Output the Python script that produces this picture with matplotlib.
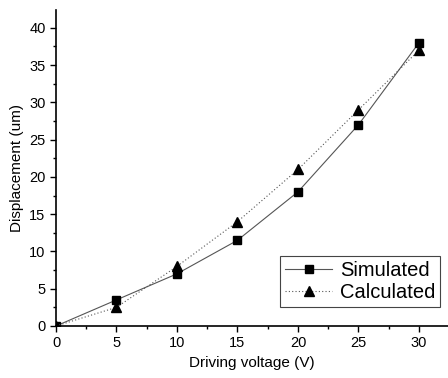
import matplotlib
matplotlib.use('Agg')
import matplotlib.pyplot as plt
from matplotlib.ticker import MultipleLocator

plt.rcParams['font.family'] = ['Liberation Sans', 'DejaVu Sans']

# dados
voltage = [0, 5, 10, 15, 20, 25, 30]
simulated = [0, 3.5, 7, 11.5, 18, 27, 38]
calculated = [0, 2.5, 8, 14, 21, 29, 37]

fig = plt.figure(figsize=(4.48, 3.78), dpi=100)
ax = fig.add_axes([0.125, 0.1376, 0.875, 0.836])

ax.plot(voltage, simulated, color='#555555', linewidth=0.8, linestyle='-',
        marker='s', markersize=6, markerfacecolor='black', markeredgecolor='black',
        label='Simulated')
ax.plot(voltage, calculated, color='#555555', linewidth=0.8, linestyle=(0, (1, 2)),
        marker='^', markersize=7, markerfacecolor='black', markeredgecolor='black',
        label='Calculated')

ax.set_xlim(0, 32.4)
ax.set_ylim(0, 42.4)
ax.xaxis.set_major_locator(MultipleLocator(5))
ax.xaxis.set_minor_locator(MultipleLocator(2.5))
ax.yaxis.set_major_locator(MultipleLocator(5))
ax.yaxis.set_minor_locator(MultipleLocator(2.5))

ax.spines['top'].set_visible(False)
ax.spines['right'].set_visible(False)
ax.spines['left'].set_linewidth(1.2)
ax.spines['bottom'].set_linewidth(1.2)
ax.tick_params(which='major', direction='out', length=4, width=1, labelsize=10.5)
ax.tick_params(which='minor', direction='out', length=2.5, width=1)

ax.set_xlabel('Driving voltage (V)', fontsize=11)
ax.set_ylabel('Displacement (um)', fontsize=11)

leg = ax.legend(loc='lower right', bbox_to_anchor=(0.98, 0.06), fontsize=14.5,
                fancybox=False, framealpha=1, edgecolor='#444444',
                handlelength=2.3, borderpad=0.25, labelspacing=0.15,
                handletextpad=0.4, borderaxespad=0)
leg.get_frame().set_linewidth(0.8)

plt.savefig('out.png', dpi=100)
